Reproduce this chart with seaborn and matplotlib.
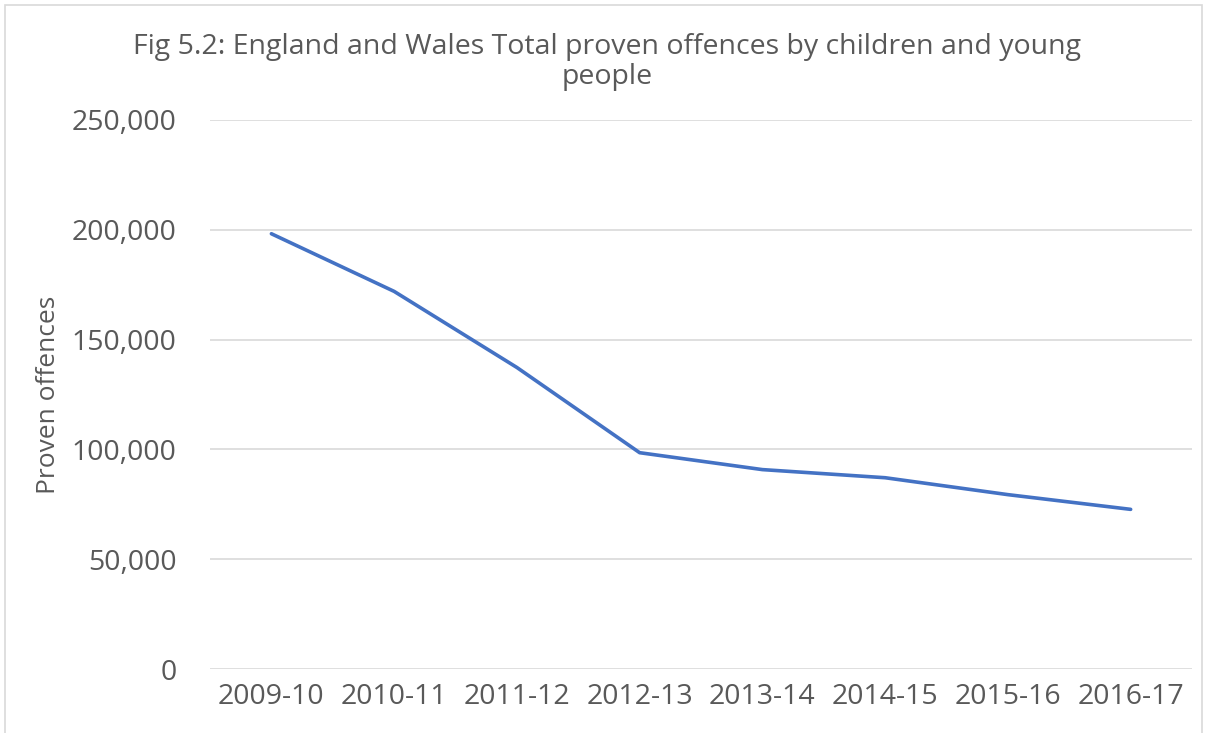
import pandas as pd
import matplotlib.pyplot as plt
import seaborn as sns
from matplotlib.patches import Rectangle
from matplotlib.ticker import FuncFormatter

years = ['2009-10', '2010-11', '2011-12', '2012-13',
         '2013-14', '2014-15', '2015-16', '2016-17']
offences = [198200, 171950, 137300, 98500, 90800, 87100, 79400, 72700]

TEXT = '#595959'
LINE = '#4472C4'
GRID = '#D9D9D9'

sns.set_theme(style='white')
plt.rcParams['font.family'] = ['Open Sans', 'DejaVu Sans']

df = pd.DataFrame({'Year': years, 'Offences': offences})

fig = plt.figure(figsize=(12.07, 7.33), dpi=100)
ax = fig.add_axes([0.174, 0.0873, 0.8136, 0.749])

sns.lineplot(data=df, x='Year', y='Offences', ax=ax, color=LINE,
             linewidth=2.6, sort=False)

ax.set_xlim(-0.5, len(years) - 0.5)
ax.set_ylim(0, 250000)
ax.set_yticks(range(0, 250001, 50000))
ax.yaxis.set_major_formatter(FuncFormatter(lambda v, p: f'{int(v):,}'))
ax.grid(axis='y', color=GRID, linewidth=1.2)
ax.set_axisbelow(True)
for s in ax.spines.values():
    s.set_visible(False)
ax.tick_params(axis='both', length=0, colors=TEXT, labelsize=20.5)
ax.tick_params(axis='y', pad=24)
ax.tick_params(axis='x', pad=10)
ax.set_xlabel('')
ax.set_ylabel('Proven offences', color=TEXT, fontsize=19)
ax.yaxis.set_label_coords(-0.152, 0.5)

fig.text(0.503, 0.955, 'Fig 5.2: England and Wales Total proven offences by children and young\npeople',
         ha='center', va='top', color=TEXT, fontsize=20.5, linespacing=1.1)

# chart area border
fig.patches.append(Rectangle((5 / 1207, -0.05), 1197 / 1207, 1.05 - 5 / 733,
                             transform=fig.transFigure, fill=False,
                             edgecolor=GRID, linewidth=1.2))

fig.savefig('out.png', dpi=100)
